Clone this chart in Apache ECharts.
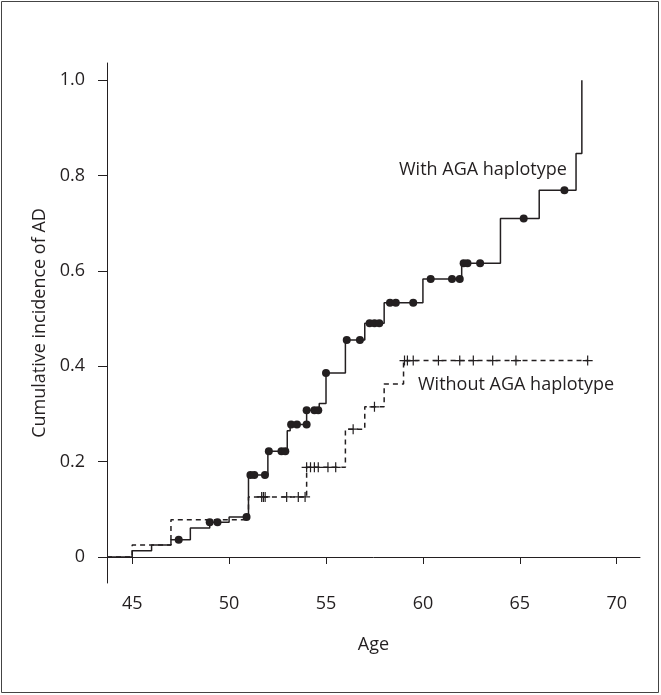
<!DOCTYPE html>
<html>
<head>
<meta charset="utf-8">
<script src="https://cdn.jsdelivr.net/npm/echarts@6/dist/echarts.min.js"></script>
<style>
  html, body { margin: 0; padding: 0; background: #fff; }
  #main { width: 661px; height: 695px; }
</style>
</head>
<body>
<div id="main"></div>
<script>
// step curves: age where the step happens, value after it
var withAges   = [43.7, 45.0, 46.0, 47.0, 48.0, 49.0, 50.0, 51.0, 52.0, 53.0, 53.15, 54.0, 54.65, 55.0, 56.0, 57.0, 58.0, 60.0, 62.0, 64.0, 66.0, 67.9, 68.2]
var withValues = [0, 0.013, 0.025, 0.036, 0.061, 0.073, 0.084, 0.172, 0.222, 0.265, 0.278, 0.308, 0.322, 0.386, 0.455, 0.49, 0.533, 0.583, 0.616, 0.71, 0.769, 0.846, 1.0]

var withoutAges   = [43.7, 45.0, 47.0, 51.0, 54.0, 56.0, 57.0, 58.0, 59.0, 68.5]
var withoutValues = [0, 0.025, 0.078, 0.126, 0.188, 0.268, 0.315, 0.363, 0.412, 0.412]

// censoring marks
var withDotAges   = [47.4, 49.0, 49.4, 50.9, 51.1, 51.3, 51.85, 52.05, 52.7, 52.9, 53.2, 53.5, 54.0, 54.0, 54.4, 54.6, 55.0, 56.07, 56.75, 57.25, 57.5, 57.75, 58.3, 58.6, 59.5, 60.4, 61.5, 61.9, 62.1, 62.3, 62.95, 65.2, 67.3]
var withDotValues = [0.036, 0.073, 0.073, 0.084, 0.172, 0.172, 0.172, 0.222, 0.222, 0.222, 0.278, 0.278, 0.278, 0.308, 0.308, 0.308, 0.386, 0.455, 0.455, 0.49, 0.49, 0.49, 0.533, 0.533, 0.533, 0.583, 0.583, 0.583, 0.616, 0.616, 0.616, 0.71, 0.769]

var crossAges   = [51.68, 51.77, 51.86, 52.97, 53.57, 53.92, 54.0, 54.2, 54.4, 54.6, 55.1, 55.5, 56.4, 57.5, 59.05, 59.2, 59.5, 60.8, 61.9, 62.6, 63.6, 64.8, 68.5]
var crossValues = [0.126, 0.126, 0.126, 0.126, 0.126, 0.126, 0.188, 0.188, 0.188, 0.188, 0.188, 0.188, 0.268, 0.315, 0.412, 0.412, 0.412, 0.412, 0.412, 0.412, 0.412, 0.412, 0.412]

var xTicks = [45, 50, 55, 60, 65, 70]
var yTicks = [0, 0.2, 0.4, 0.6, 0.8, 1.0]

function pairs(a, b) {
    var out = []
    for (var i = 0; i < a.length; i++) out.push([a[i], b[i]])
    return out
}

var ink = '#231f20'
var font = 'Open Sans'
var fs = 18

var myChart = echarts.init(document.getElementById('main'))

var option = {
    animation: false,
    grid: { left: 107, top: 63, right: 21, bottom: 112 },
    xAxis: {
        type: 'value',
        min: 43.7,
        max: 71.2,
        name: 'Age',
        nameLocation: 'middle',
        nameGap: 53,
        nameTextStyle: { color: ink, fontSize: fs, fontFamily: font },
        splitLine: { show: false },
        axisLine: { lineStyle: { color: ink, width: 1 } },
        axisTick: { customValues: xTicks, length: 7, lineStyle: { color: ink } },
        axisLabel: { customValues: xTicks, color: ink, fontSize: fs, fontFamily: font, margin: 12 }
    },
    yAxis: {
        type: 'value',
        min: -0.0545,
        max: 1.036,
        name: 'Cumulative incidence of AD',
        nameLocation: 'middle',
        nameGap: 57,
        nameTextStyle: { color: ink, fontSize: fs, fontFamily: font },
        splitLine: { show: false },
        axisLine: { show: true, lineStyle: { color: ink, width: 1 } },
        axisTick: { show: true, customValues: yTicks, length: 9, lineStyle: { color: ink } },
        axisLabel: {
            customValues: yTicks, color: ink, fontSize: fs, fontFamily: font, margin: 22,
            formatter: function (v) { return v === 0 ? '0' : v.toFixed(1) }
        }
    },
    series: [
        {
            type: 'line',
            step: 'end',
            showSymbol: false,
            data: pairs(withAges, withValues),
            lineStyle: { color: ink, width: 1.5 }
        },
        {
            type: 'line',
            step: 'end',
            showSymbol: false,
            data: pairs(withoutAges, withoutValues),
            lineStyle: { color: ink, width: 1.5, type: [5, 4] }
        },
        {
            type: 'scatter',
            symbol: 'circle',
            symbolSize: 8,
            data: pairs(withDotAges, withDotValues),
            itemStyle: { color: ink, opacity: 1 },
            z: 5
        },
        {
            type: 'scatter',
            symbol: 'path://M4.4,0h1.2v4.4h4.4v1.2h-4.4v4.4h-1.2v-4.4h-4.4v-1.2h4.4z',
            symbolSize: 10,
            data: pairs(crossAges, crossValues),
            itemStyle: { color: ink, opacity: 1 },
            z: 5
        }
    ],
    graphic: [
        {
            type: 'rect',
            shape: { x: 1.5, y: 1.5, width: 657, height: 691 },
            style: { fill: 'none', stroke: '#444', lineWidth: 1 }
        },
        {
            type: 'text', left: 399, top: 161,
            style: { text: 'With AGA haplotype', fill: ink, fontSize: fs, fontFamily: font }
        },
        {
            type: 'text', left: 418, top: 376,
            style: { text: 'Without AGA haplotype', fill: ink, fontSize: fs, fontFamily: font }
        }
    ]
}
myChart.setOption(option)
</script>
</body>
</html>
